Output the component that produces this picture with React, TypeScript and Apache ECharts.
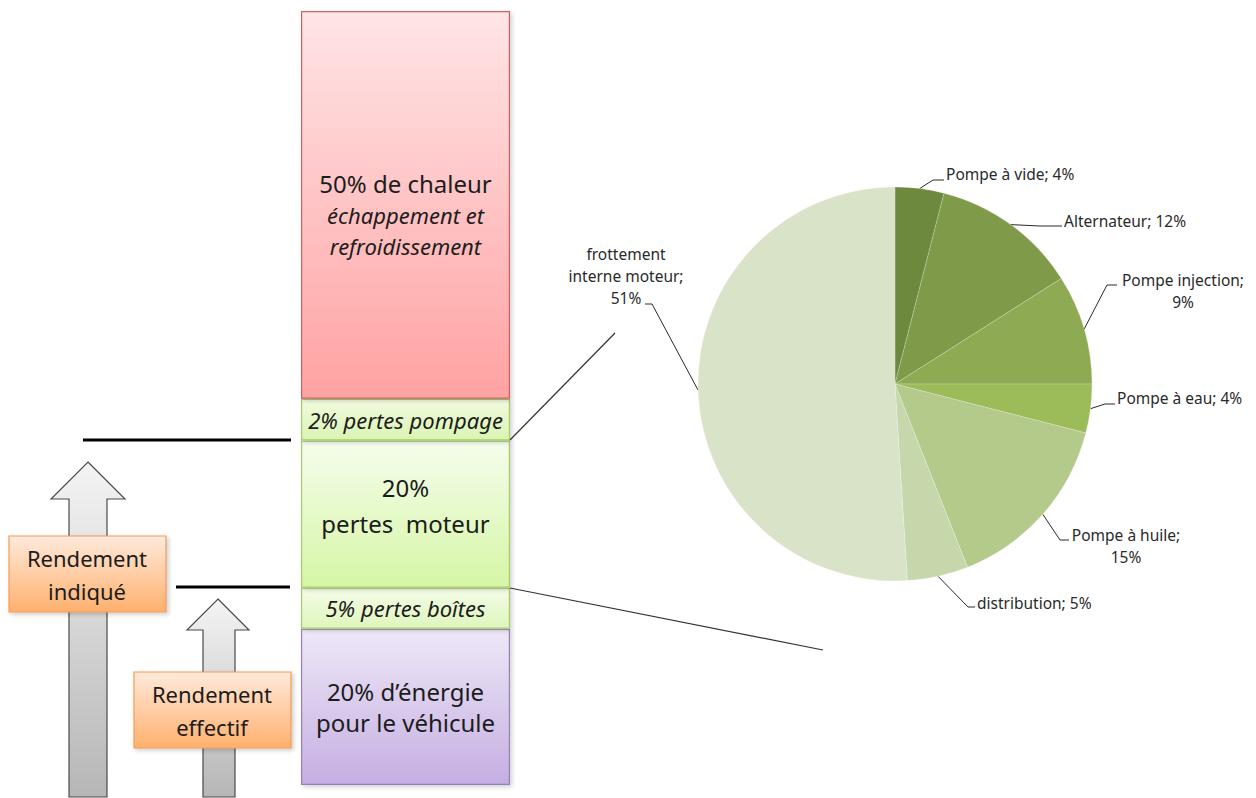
import { useEffect, useRef } from 'react';
import * as echarts from 'echarts';

// ---- Left column (schematic energy balance) ----
const barCategories = ['Bilan'];
const segmentKeys = ['vehicule', 'boites', 'moteur', 'pompage', 'chaleur'];
// stated shares in the diagram
const segmentPercents = [20, 5, 20, 2, 50];
// drawn height shares (the diagram is schematic)
const segmentHeights = [20.2, 5.3, 19.0, 5.4, 50.1];
const segmentLabels = [
  '{n|20% d\u2019énergie}\n{n|pour le véhicule}',
  '{i|5% pertes boîtes}',
  '{n|20%}\n{n|pertes  moteur}',
  '{i|2% pertes pompage}',
  '{n|50% de chaleur}\n{i|échappement et}\n{i|refroidissement}',
];

// ---- Pie (breakdown of engine losses) ----
const pieNames = [
  'Pompe à vide',
  'Alternateur',
  'Pompe injection',
  'Pompe à eau',
  'Pompe à huile',
  'distribution',
  'frottement interne moteur',
];
const pieValues = [4, 12, 9, 4, 15, 5, 51];
const pieLabelTexts = [
  'Pompe à vide; 4%',
  'Alternateur; 12%',
  'Pompe injection;\n9%',
  'Pompe à eau; 4%',
  'Pompe à huile;\n15%',
  'distribution; 5%',
  'frottement\ninterne moteur;\n51%',
];

const FONT = '"Noto Sans", "Open Sans", sans-serif';

const grad = (top: string, bottom: string) => ({
  type: 'linear',
  x: 0,
  y: 0,
  x2: 0,
  y2: 1,
  colorStops: [
    { offset: 0, color: top },
    { offset: 1, color: bottom },
  ],
});

const segmentStyles = [
  { fill: grad('#EEE8F7', '#C5AEE2'), border: '#9880BC' },
  { fill: grad('#F4FCE8', '#DEF6BC'), border: '#A8CC6C' },
  { fill: grad('#F5FDEC', '#D6F6A6'), border: '#A8CC6C' },
  { fill: grad('#F1FBE0', '#DAF4B2'), border: '#A8CC6C' },
  { fill: grad('#FFE5E7', '#FFA2A2'), border: '#C86464' },
];
const segmentLabelOffsets = [
  [0, 0],
  [0, 0],
  [0, -9],
  [0, 0],
  [0, 10],
];

const pieColors = ['#6C893D', '#7F9B4A', '#8EAB53', '#9CBB59', '#B3CA8B', '#C6D7AC', '#D8E3C7'];

// label placement (layout only): [x, y, align, elbowX, elbowY, endX, endY]
const pieLabelPlacement: any[] = [
  [946, 174, 'left', 933, 180, 944, 180],
  [1064, 221, 'left', 1040, 226, 1062, 226],
  [1183, 291, 'center', 1107, 285, 1117, 285],
  [1117, 398, 'left', 1105, 404, 1115, 404],
  [1126, 546, 'center', 1060, 540, 1069, 540],
  [977, 603, 'left', 968, 607, 975, 607],
  [626, 276, 'center', 652, 304, 645, 304],
];

export default function App() {
  const ref = useRef<HTMLDivElement>(null);

  useEffect(() => {
    document.body.style.margin = '0';
    if (!ref.current) return;
    const chart = echarts.init(ref.current, undefined, { renderer: 'svg' });

    const barSeries = segmentKeys.map((k, i) => ({
      name: k,
      type: 'bar',
      stack: 'total',
      barWidth: '100%',
      data: [segmentHeights[i]],
      itemStyle: {
        color: segmentStyles[i].fill,
        borderColor: segmentStyles[i].border,
        borderWidth: 1.2,
        shadowBlur: 4,
        shadowOffsetX: 2,
        shadowOffsetY: 2,
        shadowColor: 'rgba(0,0,0,0.18)',
      },
      label: {
        show: true,
        position: 'inside',
        offset: segmentLabelOffsets[i],
        formatter: () => segmentLabels[i],
        rich: {
          n: { fontFamily: FONT, fontSize: 24, color: '#1c1c1c', lineHeight: i === 2 ? 36 : 31 },
          i: { fontFamily: FONT, fontSize: 22, fontStyle: 'italic', color: '#1c1c1c', lineHeight: 31 },
        },
      },
      z: 2,
    }));

    const arrowFill = grad('#F4F4F4', '#B6B6B6');
    const boxFill = grad('#FFEADB', '#FFB06E');

    const option: any = {
      animation: false,
      backgroundColor: '#ffffff',
      grid: { left: 301, width: 209, top: 11, bottom: 13 },
      xAxis: { type: 'category', data: barCategories, show: false },
      yAxis: { type: 'value', min: 0, max: 100, show: false },
      series: [
        ...barSeries,
        {
          type: 'pie',
          center: [895, 384],
          radius: 197,
          startAngle: 90,
          clockwise: true,
          avoidLabelOverlap: false,
          data: pieNames.map((n, i) => ({
            name: n,
            value: pieValues[i],
            itemStyle: { color: pieColors[i] },
          })),
          itemStyle: { borderColor: 'rgba(255,255,255,0.35)', borderWidth: 0.6 },
          label: {
            show: true,
            position: 'outside',
            fontFamily: FONT,
            fontSize: 15.5,
            lineHeight: 22,
            color: '#2a2a2a',
            formatter: (p: any) => pieLabelTexts[p.dataIndex],
          },
          labelLine: {
            show: true,
            length: 10,
            length2: 10,
            lineStyle: { color: '#2a2a2a', width: 1 },
          },
          labelLayout: (p: any) => {
            const pl = pieLabelPlacement[p.dataIndex];
            const a = p.labelLinePoints ? p.labelLinePoints[0] : [pl[3], pl[4]];
            return {
              x: pl[0],
              y: pl[1],
              align: pl[2],
              verticalAlign: 'middle',
              labelLinePoints: [a, [pl[3], pl[4]], [pl[5], pl[6]]],
            };
          },
          emphasis: { disabled: true },
          z: 3,
        },
      ],
      graphic: [
        // big arrow
        {
          type: 'polygon',
          shape: {
            points: [
              [88, 462], [125, 499], [107, 499], [107, 797], [69, 797], [69, 499], [51, 499],
            ],
          },
          style: { fill: arrowFill, stroke: '#4a4a4a', lineWidth: 1.2 },
          z: 1,
        },
        // small arrow
        {
          type: 'polygon',
          shape: {
            points: [
              [218, 599], [249, 630], [235, 630], [235, 797], [203, 797], [203, 630], [187, 630],
            ],
          },
          style: { fill: arrowFill, stroke: '#4a4a4a', lineWidth: 1.2 },
          z: 1,
        },
        // level lines
        { type: 'line', shape: { x1: 83, y1: 440, x2: 291, y2: 440 }, style: { stroke: '#000', lineWidth: 3 }, z: 1 },
        { type: 'line', shape: { x1: 176, y1: 587, x2: 290, y2: 587 }, style: { stroke: '#000', lineWidth: 3 }, z: 1 },
        // boxes
        {
          type: 'rect',
          shape: { x: 9, y: 536, width: 157, height: 76 },
          style: {
            fill: boxFill, stroke: '#F59A55', lineWidth: 1.2,
            shadowBlur: 4, shadowOffsetX: 2, shadowOffsetY: 2, shadowColor: 'rgba(0,0,0,0.2)',
          },
          z: 5,
        },
        {
          type: 'text',
          x: 87,
          y: 574,
          style: {
            text: 'Rendement\nindiqué', fill: '#1c1c1c', font: `22px ${FONT}`, lineHeight: 33,
            align: 'center', verticalAlign: 'middle',
          },
          z: 6,
        },
        {
          type: 'rect',
          shape: { x: 134, y: 672, width: 157, height: 76 },
          style: {
            fill: boxFill, stroke: '#F59A55', lineWidth: 1.2,
            shadowBlur: 4, shadowOffsetX: 2, shadowOffsetY: 2, shadowColor: 'rgba(0,0,0,0.2)',
          },
          z: 5,
        },
        {
          type: 'text',
          x: 212,
          y: 710,
          style: {
            text: 'Rendement\neffectif', fill: '#1c1c1c', font: `22px ${FONT}`, lineHeight: 33,
            align: 'center', verticalAlign: 'middle',
          },
          z: 6,
        },
        // zoom connector lines
        { type: 'line', shape: { x1: 510, y1: 440, x2: 615, y2: 333 }, style: { stroke: '#333', lineWidth: 1.2 }, z: 4 },
        { type: 'line', shape: { x1: 510, y1: 588, x2: 823, y2: 650 }, style: { stroke: '#333', lineWidth: 1.2 }, z: 4 },
      ],
    };

    chart.setOption(option);
    return () => chart.dispose();
  }, []);

  return <div ref={ref} style={{ width: 1256, height: 798 }} />;
}
